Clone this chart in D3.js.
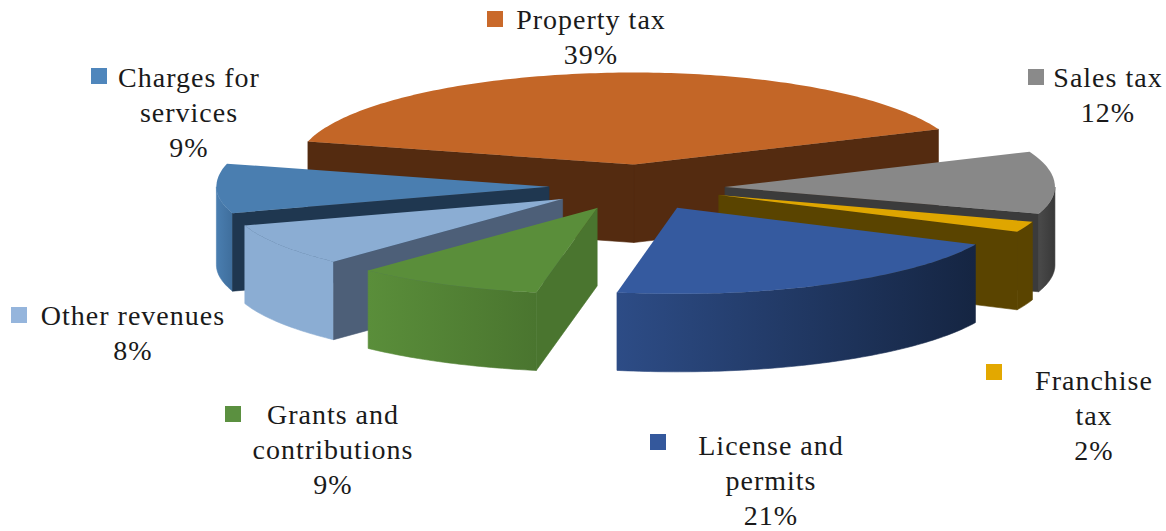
<!DOCTYPE html>
<html>
<head>
<meta charset="utf-8">
<script src="https://cdn.jsdelivr.net/npm/d3@7"></script>
<style>
  html, body { margin: 0; background: #fff; }
  text { font-family: "Liberation Serif", serif; font-size: 28px; letter-spacing: 1px; fill: #1a1a1a; }
</style>
</head>
<body>
<svg id="chart" width="1166" height="531"></svg>
<script>
// data
const categories = ["Property tax", "Sales tax", "Franchise tax", "License and permits", "Grants and contributions", "Other revenues", "Charges for services"];
const shares = [39, 12, 2, 21, 9, 8, 9];
const labelLines = [["Property tax"], ["Sales tax"], ["Franchise", "tax"], ["License and", "permits"], ["Grants and", "contributions"], ["Other revenues"], ["Charges for", "services"]];

// colours per slice: top, cut faces, outer wall left and right
const topColors = ["#C36627", "#888888", "#DFA600", "#355A9F", "#5A8E3A", "#8BADD3", "#4A7EB0"];
const cutColors = ["#542B10", "#3B3B3B", "#5A4400", "#1A2B4C", "#4A752F", "#4D5F78", "#1F3750"];
const wallColors = [["#542B10", "#542B10"], ["#4A4A4A", "#383838"], ["#5A4400", "#5A4400"], ["#2D4C86", "#152542"], ["#5A8E3A", "#4A752F"], ["#8BADD3", "#8BADD3"], ["#4A7EB0", "#3F6E9C"]];
const legendColors = ["#C9692A", "#8A8A8A", "#E3A800", "#34589C", "#5B9040", "#95B5DC", "#4F86BC"];

// back to front
const drawOrder = [0, 6, 1, 5, 2, 4, 3];

// layout of the labels: centre x of the text, first baseline, marker position
const labelPos = [
  { x: 591, y: 29, mx: 487, my: 11 },
  { x: 1108, y: 87, mx: 1028, my: 69 },
  { x: 1094, y: 390, mx: 986, my: 364 },
  { x: 771, y: 455, mx: 650, my: 434 },
  { x: 333, y: 424, mx: 225, my: 406 },
  { x: 133, y: 325, mx: 11, my: 307 },
  { x: 189, y: 87, mx: 91, my: 68 }
];

// small hand corrections for the 3d view: slice shift in px, start angle shift in degrees,
// stretch of the left side of the rim
const viewShift = [[3, 3], [0, 2], [0, 0], [0, 0], [0, 0], [0, 0], [0, 0]];
const startShift = [0, 2.5, 0, 0, -0.4, 0, 0];
const leftStretch = [1.02, 1, 1, 1, 1.012, 1.012, 1.008];

const svg = d3.select("#chart");
const defs = svg.append("defs");

// pie geometry
const cx = 637, cy = 186;
const rx = 330, ryBack = 92, ryFront = 86, depth = 78, explode = 88;
const rad = Math.PI / 180;
const startAt = -75.5 * rad;

const pie = d3.pie().sort(null).startAngle(startAt).endAngle(startAt + 2 * Math.PI);
const arcs = pie(shares).map((d, i) => {
  const next = (i + 1) % shares.length;
  return { start: d.startAngle + startShift[i] * rad, end: d.endAngle + startShift[next] * rad };
});

const line = d3.line();

drawOrder.forEach(i => {
  const d = arcs[i];
  const mid = (d.start + d.end) / 2;
  const ox = cx + explode * Math.sin(mid) + viewShift[i][0];
  const oy = cy - explode * (ryBack / rx) * Math.cos(mid) + viewShift[i][1];
  const g = svg.append("g").attr("class", "slice");

  const rimPoint = (a, drop) => {
    const c = Math.cos(a), s = Math.sin(a);
    return [ox + rx * s * (s < 0 ? leftStretch[i] : 1), oy - (c >= 0 ? ryBack : ryFront) * c + drop];
  };
  const rim = (a0, a1, drop) => {
    const n = Math.max(2, Math.ceil(Math.abs(a1 - a0) / rad));
    return d3.range(n + 1).map(k => rimPoint(a0 + (a1 - a0) * k / n, drop));
  };
  const cutFace = a => line([[ox, oy], rimPoint(a, 0), rimPoint(a, depth), [ox, oy + depth]]) + "Z";

  // cut faces that look towards the viewer, one path so no seam shows
  const cuts = [];
  if (Math.sin(d.start) < 0) cuts.push(cutFace(d.start));
  if (Math.sin(d.end) > 0) cuts.push(cutFace(d.end));

  // outer wall, only the front half of the ellipse
  const w0 = Math.max(d.start, 90 * rad), w1 = Math.min(d.end, 270 * rad);
  if (w1 > w0) {
    const top = rim(w0, w1, 0);
    const bottom = rim(w1, w0, depth);
    const xs = top.map(p => p[0]);
    const grad = defs.append("linearGradient")
      .attr("id", "wall" + i)
      .attr("gradientUnits", "userSpaceOnUse")
      .attr("x1", d3.min(xs)).attr("x2", d3.max(xs))
      .attr("y1", 0).attr("y2", 0);
    grad.append("stop").attr("offset", 0).attr("stop-color", wallColors[i][0]);
    grad.append("stop").attr("offset", 1).attr("stop-color", wallColors[i][1]);
    g.append("path")
      .attr("d", line(top.concat(bottom)) + "Z")
      .attr("fill", `url(#wall${i})`)
      .attr("stroke", `url(#wall${i})`)
      .attr("stroke-width", 0.6);
  }

  if (cuts.length) {
    g.append("path")
      .attr("d", cuts.join(""))
      .attr("fill", cutColors[i])
      .attr("stroke", cutColors[i])
      .attr("stroke-width", 0.6);
  }

  // top
  g.append("path")
    .attr("d", line([[ox, oy]].concat(rim(d.start, d.end, 0))) + "Z")
    .attr("fill", topColors[i]);
});

// labels
const labels = svg.append("g").attr("class", "labels");
const lineGap = 35;
categories.forEach((name, i) => {
  const p = labelPos[i];
  labels.append("rect")
    .attr("x", p.mx).attr("y", p.my)
    .attr("width", 16).attr("height", 16)
    .attr("fill", legendColors[i]);
  const t = labels.append("text").attr("text-anchor", "middle");
  labelLines[i].concat([shares[i] + "%"]).forEach((s, k) => {
    t.append("tspan").attr("x", p.x).attr("y", p.y + k * lineGap).text(s);
  });
});
</script>
</body>
</html>
